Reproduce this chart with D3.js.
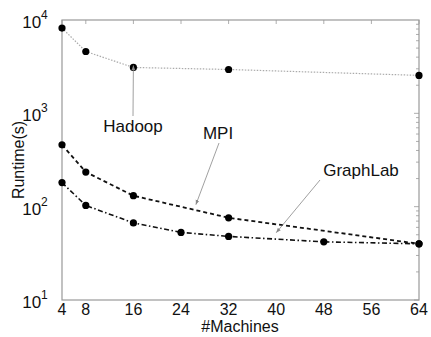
<!DOCTYPE html>
<html>
<head>
<meta charset="utf-8">
<script src="https://cdn.jsdelivr.net/npm/d3@7"></script>
<style>
  body { margin: 0; background: #fff; }
  text { font-family: "Liberation Sans", Arial, sans-serif; }
</style>
</head>
<body>
<svg id="chart"></svg>
<script>
const machines = [4, 8, 16, 32, 64];
const hadoop = [8200, 4600, 3100, 2950, 2550];
const mpi = [460, 235, 131, 76, 40];
const graphlabX = [4, 8, 16, 24, 32, 48, 64];
const graphlab = [181, 103, 67, 53, 48, 42, 40];
const xTicks = [4, 8, 16, 24, 32, 40, 48, 56, 64];
const yTicks = [10, 100, 1000, 10000];

const width = 431, height = 337;
const margin = {top: 20, right: 12, bottom: 37, left: 62};

const svg = d3.select("#chart").attr("width", width).attr("height", height);

const x = d3.scaleLinear().domain([4, 64]).range([margin.left, width - margin.right]);
const y = d3.scaleLog().domain([10, 10000]).range([height - margin.bottom, margin.top]);

const axisColor = "#999";

// frame
svg.append("rect")
  .attr("x", x(4)).attr("y", y(10000))
  .attr("width", x(64) - x(4)).attr("height", y(10) - y(10000))
  .attr("fill", "none").attr("stroke", axisColor).attr("stroke-width", 1.2);

// minor log ticks on the right, inward
const minor = [];
for (let d = 10; d < 10000; d *= 10) for (let k = 1; k < 10; k++) minor.push(d * k);
svg.append("g").selectAll("line").data(minor).join("line")
  .attr("x1", x(64)).attr("x2", d => x(64) - (yTicks.includes(d) ? 5 : 3))
  .attr("y1", d => y(d)).attr("y2", d => y(d))
  .attr("stroke", axisColor).attr("stroke-width", 0.8);

// top ticks, inward
svg.append("g").selectAll("line").data(xTicks).join("line")
  .attr("x1", d => x(d)).attr("x2", d => x(d))
  .attr("y1", y(10000)).attr("y2", y(10000) + 4)
  .attr("stroke", axisColor).attr("stroke-width", 0.8);

// x tick labels
svg.append("g").selectAll("text").data(xTicks).join("text")
  .attr("x", d => x(d)).attr("y", y(10) + 15)
  .attr("text-anchor", "middle").attr("font-size", 16).attr("fill", "#111")
  .text(d => d);

// y tick labels 10^n
const yl = svg.append("g").selectAll("text").data(yTicks).join("text")
  .attr("x", x(4) - 27).attr("y", d => y(d) + 8)
  .attr("text-anchor", "middle").attr("font-size", 17).attr("fill", "#111");
yl.append("tspan").text("10");
yl.append("tspan").attr("dy", -9).attr("font-size", 12).text(d => Math.round(Math.log10(d)));

// axis labels
svg.append("text")
  .attr("x", 240).attr("y", 332)
  .attr("text-anchor", "middle").attr("font-size", 16).attr("fill", "#111")
  .text("#Machines");
svg.append("text")
  .attr("transform", `translate(24,${(y(10) + y(10000)) / 2}) rotate(-90)`)
  .attr("text-anchor", "middle").attr("font-size", 16).attr("fill", "#111")
  .text("Runtime(s)");

const line = d3.line().x(d => x(d[0])).y(d => y(d[1]));

const series = [
  {xs: machines, ys: hadoop, stroke: "#aaa", dash: "1.5,1.5", width: 1.2},
  {xs: machines, ys: mpi, stroke: "#111", dash: "4,3", width: 1.8},
  {xs: graphlabX, ys: graphlab, stroke: "#111", dash: "5,2.5,1.5,2.5", width: 1.6}
];

series.forEach(s => {
  const pts = s.xs.map((v, i) => [v, s.ys[i]]);
  svg.append("path").datum(pts)
    .attr("d", line)
    .attr("fill", "none").attr("stroke", s.stroke)
    .attr("stroke-width", s.width).attr("stroke-dasharray", s.dash);
  svg.append("g").selectAll("circle").data(pts).join("circle")
    .attr("cx", d => x(d[0])).attr("cy", d => y(d[1]))
    .attr("r", 3.6).attr("fill", "#000");
});

// annotations
svg.append("defs").append("marker")
  .attr("id", "arr").attr("viewBox", "0 0 10 10").attr("refX", 10).attr("refY", 5)
  .attr("markerWidth", 6).attr("markerHeight", 6).attr("orient", "auto")
  .append("path").attr("d", "M0,1 L10,5 L0,9 Z").attr("fill", "#888");

const notes = [
  {label: "Hadoop", tx: 133, ty: 132, from: [133, 116], to: [16, 3100]},
  {label: "MPI", tx: 218, ty: 139, from: [219, 143], to: [26.5, 100]},
  {label: "GraphLab", tx: 361, ty: 176, from: [320, 180], to: [40, 50]}
];
notes.forEach(n => {
  svg.append("text").attr("x", n.tx).attr("y", n.ty)
    .attr("text-anchor", "middle").attr("font-size", 17).attr("fill", "#111")
    .text(n.label);
  svg.append("line")
    .attr("x1", n.from[0]).attr("y1", n.from[1])
    .attr("x2", x(n.to[0])).attr("y2", y(n.to[1]) - 2)
    .attr("stroke", "#888").attr("stroke-width", 0.8)
    .attr("marker-end", "url(#arr)");
});
</script>
</body>
</html>
